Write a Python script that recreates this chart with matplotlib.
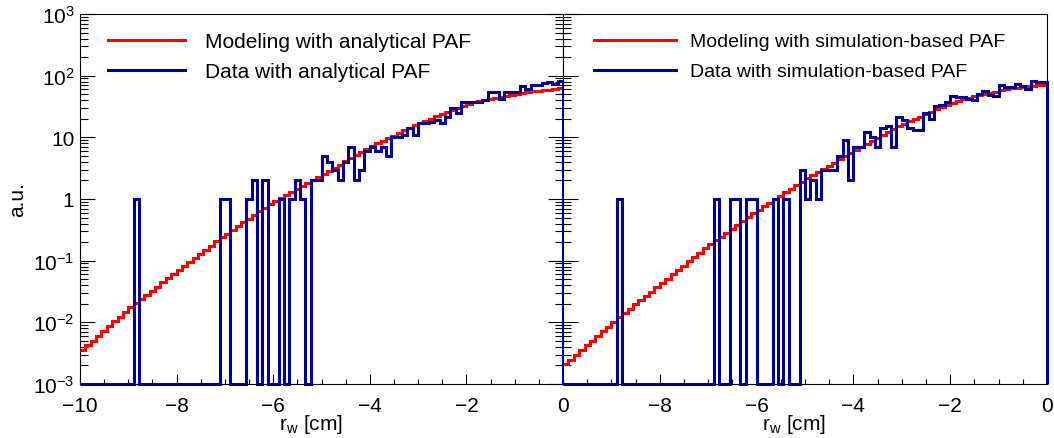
import matplotlib
matplotlib.use('Agg')
import matplotlib.pyplot as plt
import numpy as np
from matplotlib.ticker import FixedLocator, LogLocator, MultipleLocator, FuncFormatter, NullFormatter

# histogram range (cm) and number of bins
x_min, x_max, n_bins = -10.0, 0.0, 90
y_min, y_max = 1e-3, 1e3

# modeling with analytical PAF (left)
model_ana = [0.0035, 0.0043, 0.0050, 0.0060, 0.0072, 0.0087, 0.0105, 0.0123, 0.0148, 0.0174,
             0.0204, 0.024, 0.028, 0.0327, 0.038, 0.0447, 0.0525, 0.0617, 0.0713, 0.083,
             0.096, 0.112, 0.130, 0.151, 0.176, 0.205, 0.238, 0.275, 0.316, 0.363,
             0.417, 0.479, 0.55, 0.63, 0.72, 0.83, 0.94, 1.05, 1.17, 1.31,
             1.46, 1.63, 1.82, 2.03, 2.27, 2.55, 2.86, 3.22, 3.62, 4.07,
             4.58, 5.15, 5.79, 6.5, 7.26, 8.0, 8.83, 9.73, 10.7, 11.8,
             13.0, 14.4, 15.8, 17.3, 18.7, 20.2, 21.9, 23.7, 25.7, 27.8,
             30.1, 32.6, 34.8, 36.8, 38.7, 40.6, 42.4, 44.1, 45.8, 47.5,
             49.2, 50.9, 52.6, 54.2, 55.6, 57.0, 58.3, 59.6, 60.8, 62.0]

# data with analytical PAF (left)
data_ana = [0, 0, 0, 0, 0, 0, 0, 0, 0, 0,
            1, 0, 0, 0, 0, 0, 0, 0, 0, 0,
            0, 0, 0, 0, 0, 0, 1, 1, 0, 0,
            0, 1, 2, 0, 2, 0, 0, 1, 0, 1,
            2, 1, 0, 2, 2, 5, 4, 3, 2, 4,
            7, 2, 3, 6, 7, 6, 7, 5, 10, 10,
            11, 14, 11, 17, 17, 18, 19, 17, 21, 30,
            25, 37, 38, 37, 37, 40, 55, 55, 42, 55,
            55, 55, 69, 60, 70, 70, 75, 78, 72, 82]

# modeling with simulation-based PAF (right)
model_sim = [0.00208, 0.00248, 0.00296, 0.00353, 0.00422, 0.00504, 0.0060, 0.00716, 0.00855, 0.0102,
             0.0120, 0.0141, 0.0166, 0.0195, 0.0229, 0.0269, 0.0316, 0.0371, 0.0436, 0.0512,
             0.0601, 0.0706, 0.0830, 0.0975, 0.115, 0.135, 0.158, 0.184, 0.213, 0.246,
             0.285, 0.330, 0.381, 0.442, 0.511, 0.590, 0.673, 0.767, 0.875, 0.995,
             1.135, 1.294, 1.472, 1.679, 1.914, 2.17, 2.44, 2.74, 3.08, 3.47,
             3.90, 4.40, 4.94, 5.56, 6.22, 6.95, 7.74, 8.65, 9.66, 10.8,
             12.1, 13.4, 15.0, 16.6, 18.1, 19.8, 21.7, 23.7, 25.9, 28.4,
             31.0, 34.0, 36.7, 39.1, 41.5, 44.0, 46.3, 48.8, 51.1, 53.2,
             55.2, 58.2, 60.4, 62.4, 64.1, 65.8, 67.3, 68.5, 69.7, 70.5]

# data with simulation-based PAF (right)
data_sim = [0, 0, 0, 0, 0, 0, 0, 0, 0, 0,
            1, 0, 0, 0, 0, 0, 0, 0, 0, 0,
            0, 0, 0, 0, 0, 0, 0, 0, 1, 0,
            0, 1, 1, 0, 1, 1, 0, 0, 0, 1,
            0, 1, 0, 0, 3, 1, 2, 1, 3, 3,
            3, 5, 9, 2, 7, 7, 12, 10, 7, 14,
            15, 7, 21, 19, 14, 13, 13, 25, 20, 32,
            34, 38, 47, 45, 45, 42, 41, 50, 57, 48,
            46, 71, 65, 65, 73, 69, 61, 83, 78, 78]

labels_ana = ['Modeling with analytical PAF', 'Data with analytical PAF']
labels_sim = ['Modeling with simulation-based PAF', 'Data with simulation-based PAF']

plt.rcParams['font.family'] = ['Liberation Sans', 'DejaVu Sans']
plt.rcParams['mathtext.fontset'] = 'custom'
plt.rcParams['mathtext.rm'] = 'Liberation Sans'
plt.rcParams['mathtext.it'] = 'Liberation Sans:italic'
plt.rcParams['mathtext.bf'] = 'Liberation Sans:bold'

RED = '#ff0000'
BLUE = '#000099'
FS = 15


def log_label(v, pos):
    e = int(round(np.log10(v)))
    if e == 0:
        return '1'
    if e == 1:
        return '10'
    return r'$\mathregular{10^{%d}}$' % e


def draw_panel(ax, model, data, labels, xticks, show_ylabels, leg):
    edges = np.linspace(x_min, x_max, n_bins + 1)
    data = np.array(data, dtype=float)
    data_plot = np.where(data > 0, data, y_min)

    ax.stairs(model, edges, color=RED, lw=2.2, baseline=None, label=labels[0], zorder=3)
    ax.stairs(data_plot, edges, color=BLUE, lw=2.2, baseline=y_min, label=labels[1],
              clip_on=False, zorder=4)

    ax.set_yscale('log')
    ax.set_xlim(x_min, x_max)
    ax.set_ylim(y_min, y_max)

    ax.xaxis.set_major_locator(FixedLocator(xticks))
    ax.xaxis.set_minor_locator(MultipleLocator(0.5))
    ax.yaxis.set_major_locator(LogLocator(base=10, numticks=10))
    ax.yaxis.set_minor_locator(LogLocator(base=10, subs=np.arange(2, 10), numticks=20))
    ax.yaxis.set_major_formatter(FuncFormatter(log_label))
    ax.yaxis.set_minor_formatter(NullFormatter())

    ax.tick_params(axis='x', which='major', direction='in', length=7.2, width=0.8,
                   labelsize=FS, pad=8.5, top=False)
    ax.tick_params(axis='x', which='minor', direction='in', length=3.6, width=0.8, top=False)
    ax.tick_params(axis='y', which='major', direction='in', length=10.8, width=0.8,
                   labelsize=FS, pad=4, left=True, right=show_ylabels, labelleft=show_ylabels)
    ax.tick_params(axis='y', which='minor', direction='in', length=5.8, width=0.8,
                   left=True, right=show_ylabels)

    for s in ax.spines.values():
        s.set_linewidth(0.8)

    ax.text(0.478, -0.108, r'r$_{\mathregular{w}}$ [cm]', transform=ax.transAxes,
            ha='center', va='center', fontsize=FS)

    leg_x, leg_fs, handle_len, text_pad, spacing = leg
    ax.legend(loc='center left', bbox_to_anchor=(leg_x, 0.885), frameon=False, fontsize=leg_fs,
              handlelength=handle_len, handletextpad=text_pad, labelspacing=spacing,
              borderpad=0, borderaxespad=0)


def main():
    fig = plt.figure(figsize=(10.54, 4.39), dpi=100)
    ax1 = fig.add_axes([80 / 1054, 54 / 439, 483 / 1054, 370 / 439])
    ax2 = fig.add_axes([563 / 1054, 54 / 439, 484 / 1054, 370 / 439])

    draw_panel(ax1, model_ana, data_ana, labels_ana, [-10, -8, -6, -4, -2, 0], True,
               (0.058, 15, 3.7, 0.95, 0.55))
    draw_panel(ax2, model_sim, data_sim, labels_sim, [-8, -6, -4, -2, 0], False,
               (0.064, 14, 4.2, 0.72, 0.64))

    fig.text(18 / 1054, 1 - 200 / 439, 'a.u.', rotation=90, ha='center', va='center', fontsize=FS)

    fig.savefig('out.png', dpi=100)


if __name__ == "__main__":
    main()
